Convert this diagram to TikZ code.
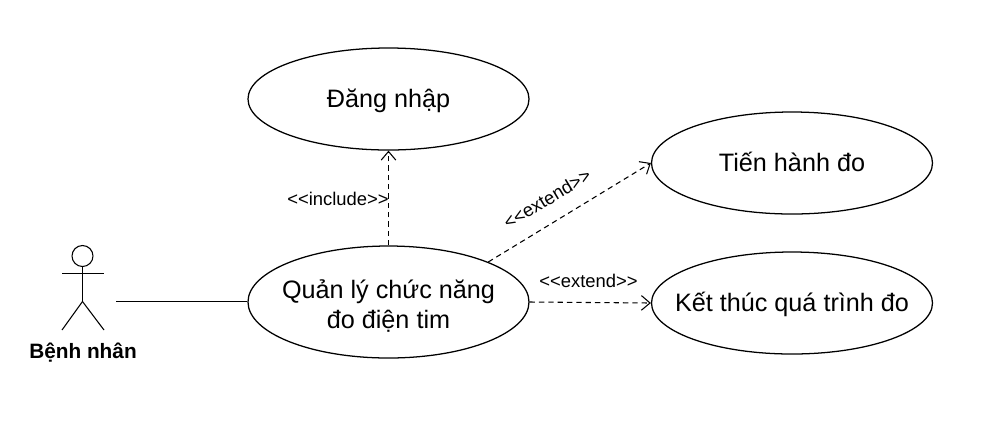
\documentclass[tikz,border=0pt]{standalone}
\usepackage{fontspec}
\setmainfont{Liberation Sans}
\usetikzlibrary{arrows.meta,shapes.geometric}
\newdimen\pxu \pxu=.75pt
\tikzset{
  usecase/.style={draw,ellipse,line width=.95pt,minimum width=281\pxu,minimum height=102\pxu,inner xsep=-60\pxu,inner ysep=-15\pxu,align=center,font=\fontsize{18.9}{23}\selectfont},
  oneline/.style={text height=17pt,text depth=5pt},
  dep/.style={dash pattern=on 4pt off 3pt,line width=.8pt,-{Straight Barb[length=6.5pt,width=11pt]}},
  deplabel/.style={font=\fontsize{13.8}{16}\selectfont,inner sep=0pt},
  limb/.style={line width=.8pt}
}
\begin{document}
\begin{tikzpicture}[x=.75pt,y=-.75pt]
\useasboundingbox (0,0) rectangle (994,426);
\node[usecase,oneline] (login) at (388.5,99) {Đăng nhập};
\node[usecase,oneline] (measure) at (792,163) {Tiến hành đo};
\node[usecase,oneline] (finish) at (792,303) {Kết thúc quá trình đo};
\node[usecase,minimum height=112\pxu] (manage) at (388.5,302) {\rule{0pt}{20pt}Quản lý chức năng\\đo điện tim};
% actor
\draw[limb] (82.5,256) circle [radius=10.5];
\draw[limb] (82.5,267) -- (82.5,301.5);
\draw[limb] (62,273.5) -- (104,273.5);
\draw[limb] (82.5,301.5) -- (62,330);
\draw[limb] (82.5,301.5) -- (104,330);
\node[font=\fontsize{15.6}{18}\selectfont\bfseries] (patient) at (83,352.5) {Bệnh nhân};
\coordinate (actor) at (116,301.5);
\draw[limb] (actor) -- (manage.west |- actor);
\draw[dep] (manage.north) -- (login.south);
\draw[dep] (manage.north east) -- (measure.west);
\draw[dep] (manage.east) -- (finish.west);
\node[deplabel] (incl) at (338,199) {<{}<include>{}>};
\node[deplabel,rotate=31] (ext1) at (547,199) {<{}<extend>{}>};
\node[deplabel] (ext2) at (588.5,281) {<{}<extend>{}>};
\end{tikzpicture}
\end{document}
